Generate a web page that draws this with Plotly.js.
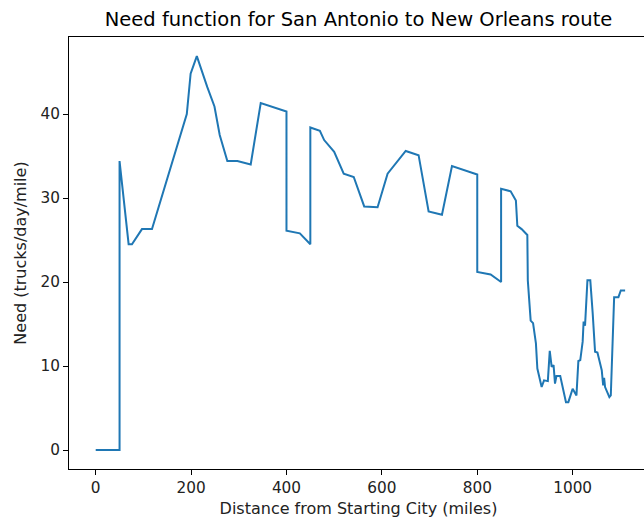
<!DOCTYPE html>
<html>
<head>
<meta charset="utf-8">
<script src="https://cdn.plot.ly/plotly-3.0.1.min.js"></script>
<style>
html, body { margin: 0; padding: 0; overflow: hidden; background: #fff; }
#chart { width: 660px; height: 521px; }
</style>
</head>
<body>
<div id="chart"></div>
<script>
// Distance from starting city (miles)
const distance = [0, 50, 50, 69, 76, 97, 118, 191, 199, 212, 234, 249, 260, 276, 297, 325, 346, 400,
  400, 428, 450, 450, 470, 479, 500, 520, 541, 563, 591, 612, 650, 677, 698, 726, 747, 800,
  800, 828, 850, 850, 870, 881, 884, 893, 905, 906, 912, 917, 923, 926, 935, 940, 948, 952,
  956, 960, 963, 966, 974, 979, 986, 991, 1000, 1008, 1012, 1016, 1021, 1023, 1026, 1031,
  1037, 1042, 1047, 1052, 1061, 1064, 1066, 1068, 1077, 1080, 1087, 1096, 1101, 1110];
// Need (trucks/day/mile)
const need = [0, 0, 34.4, 24.5, 24.5, 26.3, 26.3, 40.0, 44.8, 46.9, 43.2, 40.9, 37.5, 34.4, 34.4, 34.0, 41.3, 40.3,
  26.1, 25.8, 24.5, 38.4, 38.0, 36.9, 35.5, 32.9, 32.5, 29.0, 28.9, 32.9, 35.6, 35.1, 28.4, 28.0, 33.8, 32.8,
  21.2, 20.9, 20.0, 31.1, 30.8, 29.7, 26.7, 26.3, 25.6, 20.2, 15.4, 15.1, 12.7, 9.7, 7.5, 8.3, 8.2, 11.8,
  9.9, 10.1, 7.9, 8.8, 8.8, 7.5, 5.7, 5.7, 7.3, 6.5, 10.6, 10.7, 12.9, 15.3, 14.8, 20.2,
  20.2, 16.3, 11.7, 11.6, 9.5, 7.7, 8.6, 7.5, 6.3, 6.5, 18.2, 18.2, 19.0, 19.0];

const xTicks = [0, 200, 400, 600, 800, 1000];
const yTicks = [0, 10, 20, 30, 40];

const font = "DejaVu Sans, sans-serif";

Plotly.newPlot('chart', [{
  x: distance,
  y: need,
  type: 'scatter',
  mode: 'lines',
  line: { color: '#1f77b4', width: 2 },
  hoverinfo: 'skip'
}], {
  width: 660,
  height: 521,
  margin: { l: 69, r: 12, t: 37, b: 52, pad: 0 },
  paper_bgcolor: '#ffffff',
  plot_bgcolor: '#ffffff',
  showlegend: false,
  title: {
    text: 'Need function for San Antonio to New Orleans route',
    font: { family: font, size: 19.5, color: '#000' },
    x: 0.5, xref: 'paper', xanchor: 'center',
    y: 1 - 19 / 521, yref: 'container', yanchor: 'middle'
  },
  xaxis: {
    range: [-56, 1158],
    tickvals: xTicks,
    ticktext: xTicks.map(String),
    ticks: 'outside', ticklen: 5, tickwidth: 1, tickcolor: '#000',
    showline: true, linecolor: '#000', linewidth: 1, mirror: true,
    showgrid: false, zeroline: false,
    tickfont: { family: font, size: 15.3, color: '#222' },
    title: { text: 'Distance from Starting City (miles)', font: { family: font, size: 16, color: '#222' }, standoff: 6 }
  },
  yaxis: {
    range: [-2.26, 49.17],
    tickvals: yTicks,
    ticktext: yTicks.map(String),
    ticks: 'outside', ticklen: 5, tickwidth: 1, tickcolor: '#000',
    showline: true, linecolor: '#000', linewidth: 1, mirror: true,
    showgrid: false, zeroline: false,
    tickfont: { family: font, size: 15.3, color: '#222' },
    title: { text: 'Need (trucks/day/mile)', font: { family: font, size: 16, color: '#222' }, standoff: 9 }
  }
}, { displayModeBar: false, staticPlot: true });
</script>
</body>
</html>
